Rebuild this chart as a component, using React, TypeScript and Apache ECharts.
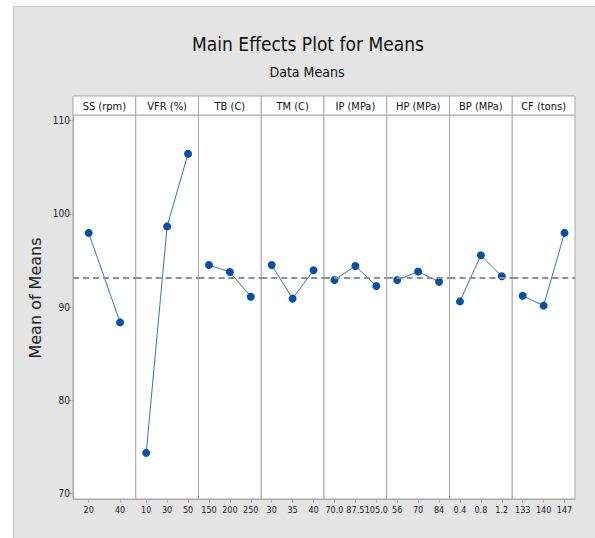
import React, { useEffect, useRef } from "react";
import * as echarts from "echarts";

// ---- data ----
const panelNames = ["SS (rpm)", "VFR (%)", "TB (C)", "TM (C)", "IP (MPa)", "HP (MPa)", "BP (MPa)", "CF (tons)"];
const ssLevels = ["20", "40"];
const ssMeans = [97.95, 88.35];
const vfrLevels = ["10", "30", "50"];
const vfrMeans = [74.35, 98.65, 106.45];
const tbLevels = ["150", "200", "250"];
const tbMeans = [94.5, 93.75, 91.1];
const tmLevels = ["30", "35", "40"];
const tmMeans = [94.5, 90.9, 93.95];
const ipLevels = ["70.0", "87.5", "105.0"];
const ipMeans = [92.9, 94.4, 92.25];
const hpLevels = ["56", "70", "84"];
const hpMeans = [92.9, 93.8, 92.7];
const bpLevels = ["0.4", "0.8", "1.2"];
const bpMeans = [90.6, 95.55, 93.3];
const cfLevels = ["133", "140", "147"];
const cfMeans = [91.2, 90.15, 97.95];
const grandMean = 93.1;
const yTicks = [70, 80, 90, 100, 110];

const levelsList = [ssLevels, vfrLevels, tbLevels, tmLevels, ipLevels, hpLevels, bpLevels, cfLevels];
const meansList = [ssMeans, vfrMeans, tbMeans, tmMeans, ipMeans, hpMeans, bpMeans, cfMeans];

// ---- layout ----
const PLOT_LEFT = 73;
const PLOT_RIGHT = 575;
const PANEL_W = (PLOT_RIGHT - PLOT_LEFT) / 8;
const PLOT_TOP = 115;
const PLOT_H = 384;
const HEADER_TOP = 96;
const HEADER_H = 19;
const NARROW = "'Liberation Sans Narrow', 'DejaVu Sans Condensed', 'Roboto', sans-serif";
const BORDER = "#a9a9a9";

export default function App() {
  const ref = useRef<HTMLDivElement>(null);

  useEffect(() => {
    document.body.style.margin = "0";
    if (!ref.current) return;
    const chart = echarts.init(ref.current, null, { renderer: "svg" });

    const grids: any[] = [];
    const xAxes: any[] = [];
    const yAxes: any[] = [];
    const series: any[] = [];
    const graphics: any[] = [];

    panelNames.forEach((name, i) => {
      const left = PLOT_LEFT + i * PANEL_W;
      grids.push({
        left,
        top: PLOT_TOP,
        width: PANEL_W,
        height: PLOT_H,
        show: true,
        backgroundColor: "#ffffff",
        borderColor: BORDER,
        borderWidth: 1,
        containLabel: false,
        outerBoundsMode: "none",
      });
      xAxes.push({
        type: "category",
        gridIndex: i,
        data: levelsList[i],
        boundaryGap: true,
        axisLine: { show: true, lineStyle: { color: BORDER, width: 1 } },
        axisTick: { show: true, alignWithLabel: true, length: 4, lineStyle: { color: BORDER } },
        axisLabel: { interval: 0, fontSize: 9, color: "#222", margin: 6, fontFamily: NARROW },
        splitLine: { show: false },
      });
      yAxes.push({
        type: "value",
        gridIndex: i,
        min: 69.4,
        max: 110.6,
        axisLine: { show: i === 0, lineStyle: { color: BORDER } },
        axisTick: { show: i === 0, length: 4, customValues: yTicks, lineStyle: { color: BORDER } },
        axisLabel: {
          show: i === 0,
          customValues: yTicks,
          fontSize: 10,
          color: "#222",
          margin: 3,
          fontFamily: NARROW,
        },
        splitLine: { show: false },
      });
      series.push({
        type: "line",
        xAxisIndex: i,
        yAxisIndex: i,
        data: meansList[i],
        symbol: "circle",
        symbolSize: 8,
        itemStyle: { color: "#0a4fa6" },
        lineStyle: { color: "#3272c4", width: 1 },
        markLine: {
          silent: true,
          symbol: "none",
          label: { show: false },
          lineStyle: { type: [6, 4], color: "#8f8f8f", width: 2 },
          data: [{ yAxis: grandMean }],
        },
      });
      graphics.push({
        type: "rect",
        shape: { x: left, y: HEADER_TOP, width: PANEL_W, height: HEADER_H },
        style: { fill: "#ffffff", stroke: BORDER, lineWidth: 1 },
      });
      graphics.push({
        type: "text",
        x: left + PANEL_W / 2,
        y: HEADER_TOP + HEADER_H / 2 + 0.5,
        style: {
          text: name,
          fontSize: 11,
          fontFamily: NARROW,
          fill: "#111",
          textAlign: "center",
          textVerticalAlign: "middle",
        },
      });
    });

    graphics.push({
      type: "text",
      x: 35,
      y: 298,
      rotation: Math.PI / 2,
      style: {
        text: "Mean of Means",
        fontSize: 16,
        fontFamily: "'DejaVu Sans', sans-serif",
        fill: "#222",
        textAlign: "center",
        textVerticalAlign: "middle",
      },
    });
    graphics.push({
      type: "text",
      x: 308,
      y: 44,
      style: {
        text: "Main Effects Plot for Means",
        fontSize: 19,
        fontFamily: NARROW,
        fill: "#111",
        textAlign: "center",
        textVerticalAlign: "middle",
      },
    });
    graphics.push({
      type: "text",
      x: 307,
      y: 72,
      style: {
        text: "Data Means",
        fontSize: 14,
        fontFamily: NARROW,
        fill: "#111",
        textAlign: "center",
        textVerticalAlign: "middle",
      },
    });

    chart.setOption({
      animation: false,
      backgroundColor: "transparent",
      grid: grids,
      xAxis: xAxes,
      yAxis: yAxes,
      series,
      graphic: graphics,
    });

    return () => chart.dispose();
  }, []);

  return (
    <div style={{ position: "relative", width: 595, height: 538, background: "#ffffff", overflow: "hidden" }}>
      <div
        style={{
          position: "absolute",
          left: 13,
          top: 6,
          right: -2,
          bottom: -2,
          background: "#e4e4e4",
          border: "1px solid #c8c8c8",
        }}
      />
      <div ref={ref} style={{ position: "absolute", left: 0, top: 0, width: 595, height: 538 }} />
    </div>
  );
}
